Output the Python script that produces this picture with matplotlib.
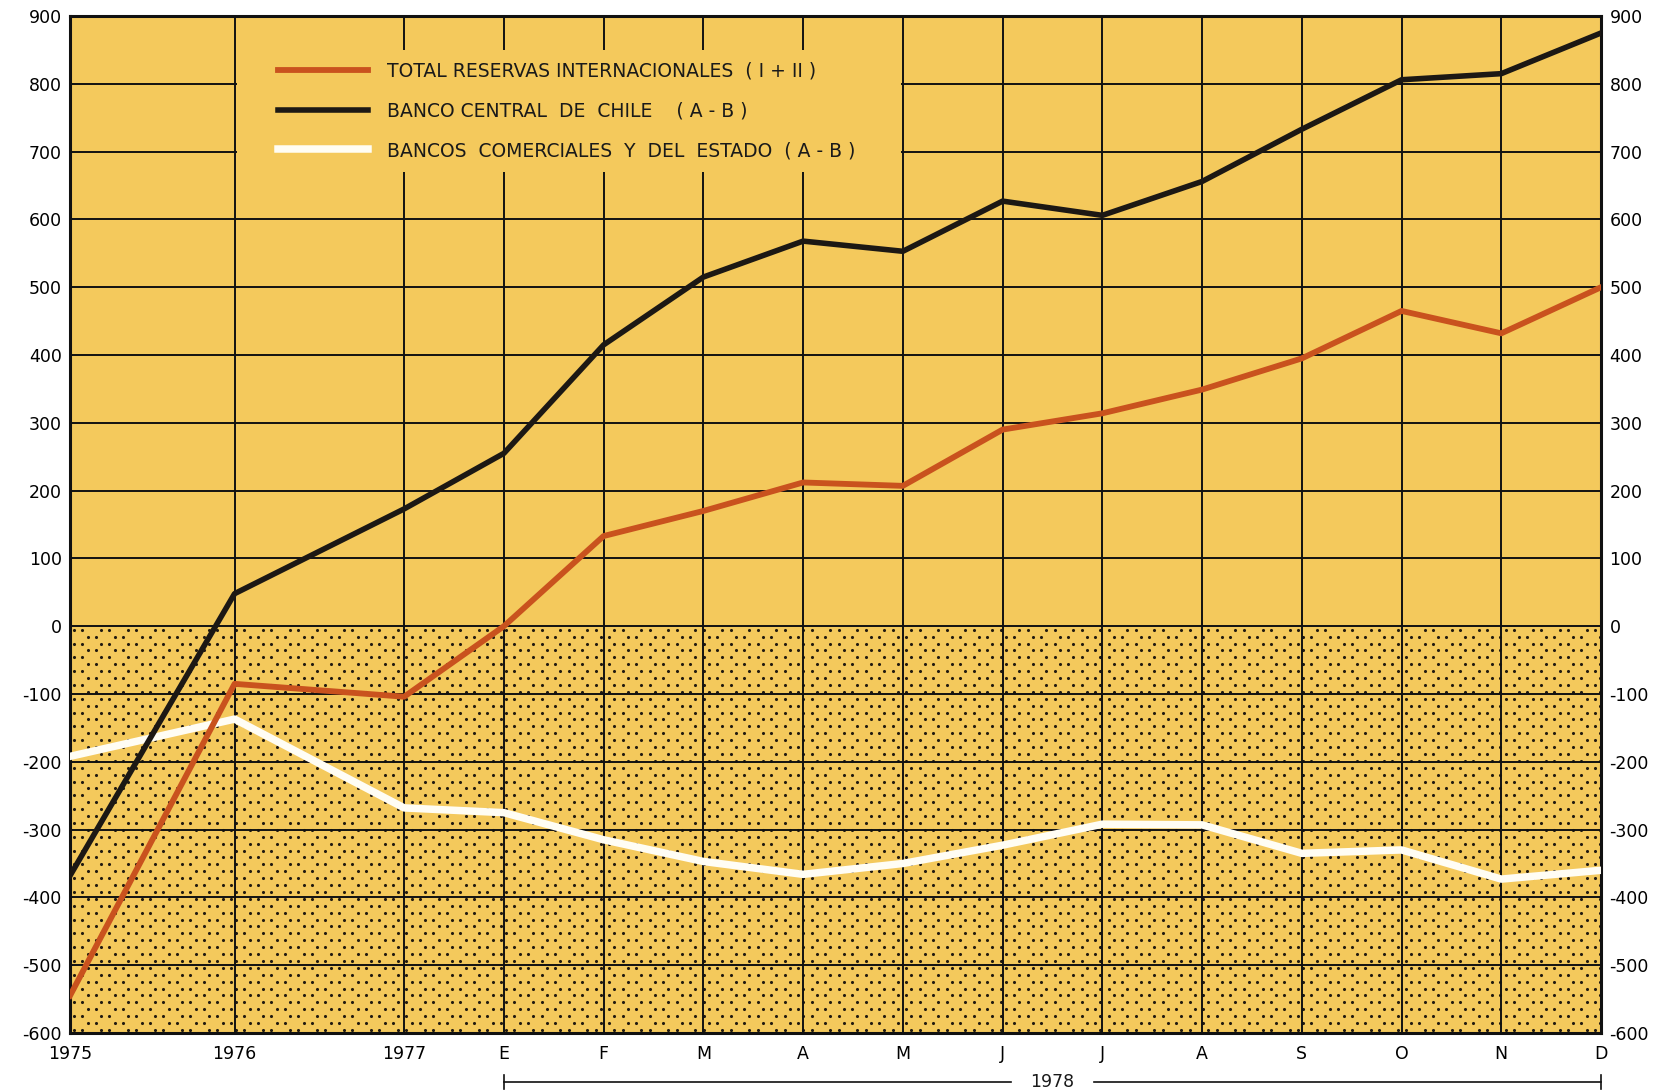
import numpy as np
import matplotlib
matplotlib.use("Agg")
import matplotlib.pyplot as plt
from matplotlib.patches import Rectangle

# tick labels along the bottom (three year-ends, then the months of 1978)
periods = ["1975", "1976", "1977", "E", "F", "M", "A", "M", "J",
           "J", "A", "S", "O", "N", "D"]

# series values, millions of US$
total_reservas = [-545, -85, -104, 0, 133, 170, 212, 207, 290,
                  314, 349, 395, 465, 432, 500]
banco_central = [-368, 48, 173, 255, 415, 515, 568, 553, 627,
                 606, 656, 733, 806, 815, 875]
bancos_comerciales = [-192, -137, -268, -275, -315, -347, -366, -350, -323,
                      -292, -293, -335, -330, -373, -360]

labels = ["TOTAL RESERVAS INTERNACIONALES  ( I + II )",
          "BANCO CENTRAL  DE  CHILE    ( A - B )",
          "BANCOS  COMERCIALES  Y  DEL  ESTADO  ( A - B )"]

# x layout: year marks are spaced wider than the months
x = np.concatenate([[0.0, 1.65, 3.35], 4.35 + np.arange(12)])

bg = "#F4C95C"
c_orange = "#C9521E"
c_black = "#1C1814"
c_white = "#FFFDF4"

plt.rcParams['font.family'] = ['DejaVu Sans']
plt.rcParams['axes.unicode_minus'] = False

fig = plt.figure(figsize=(16.55, 10.9), dpi=100)
ax = fig.add_axes([0.0423, 0.0523, 0.9251, 0.9330])
ax.set_facecolor(bg)
ax.set_xlim(x[0], x[-1])
ax.set_ylim(-600, 900)

# stipple in the negative half
px_x = 1.0 / 99.7    # data units per pixel
px_y = 1.475
rows = np.arange(-600 + 3 * px_y, 0, 6.9 * px_y)
dx, dy = [], []
for i, r in enumerate(rows):
    off = 0.0 if i % 2 == 0 else 13.5 * px_x
    starts = np.arange(4 * px_x + off, x[-1], 27 * px_x)
    for s in starts:
        dx += [s, s + 8.3 * px_x]
        dy += [r, r]
ax.scatter(dx, dy, s=5.0, color="#221A10", linewidths=0, zorder=0.4)

# grid
ax.set_xticks(x)
ax.set_xticklabels(periods)
ax.set_yticks(np.arange(-600, 901, 100))
ax.set_axisbelow(True)
ax.grid(True, color="#111111", linewidth=1.4)
for sp in ax.spines.values():
    sp.set_linewidth(2.2)
    sp.set_color("#111111")

ax.tick_params(axis='y', length=0, labelsize=12.5, pad=6,
               labelright=True, right=False)
ax.tick_params(axis='x', length=0, labelsize=12.5, pad=9)

# blank box behind the legend, between the 1976 and May gridlines
ax.add_patch(Rectangle((x[1] + 2 * px_x, 670), x[7] - x[1] - 4 * px_x, 180,
                       facecolor=bg, edgecolor="none", zorder=1))

ax.plot(x, bancos_comerciales, color=c_white, lw=5.4, zorder=3,
        solid_joinstyle='round', label=labels[2])
ax.plot(x, total_reservas, color=c_orange, lw=4.2, zorder=4,
        solid_joinstyle='round', label=labels[0])
ax.plot(x, banco_central, color=c_black, lw=4.0, zorder=5,
        solid_joinstyle='round', label=labels[1])

h, l = ax.get_legend_handles_labels()
order = [1, 2, 0]
leg = ax.legend([h[i] for i in order], [l[i] for i in order],
                loc='upper left', bbox_to_anchor=(0.136, 0.955),
                frameon=False, borderpad=0, borderaxespad=0,
                handlelength=4.8, handletextpad=1.0, labelspacing=1.1,
                fontsize=13.5)
leg.set_zorder(6)
for t in leg.get_texts():
    t.set_color("#1a1a1a")

# 1978 bracket under the months
tr = ax.get_xaxis_transform()
yb = -0.048
mid = (x[3] + x[-1]) / 2
gap = 0.42
ax.plot([x[3], mid - gap], [yb, yb], color="#111111", lw=1.2,
        transform=tr, clip_on=False)
ax.plot([mid + gap, x[-1]], [yb, yb], color="#111111", lw=1.2,
        transform=tr, clip_on=False)
for xe in (x[3], x[-1]):
    ax.plot([xe, xe], [yb - 0.007, yb + 0.007], color="#111111", lw=1.2,
            transform=tr, clip_on=False)
ax.text(mid, yb, "1978", transform=tr, ha='center', va='center',
        fontsize=12.5, color="#1a1a1a")

fig.savefig("out.png", dpi=100, facecolor="white")
